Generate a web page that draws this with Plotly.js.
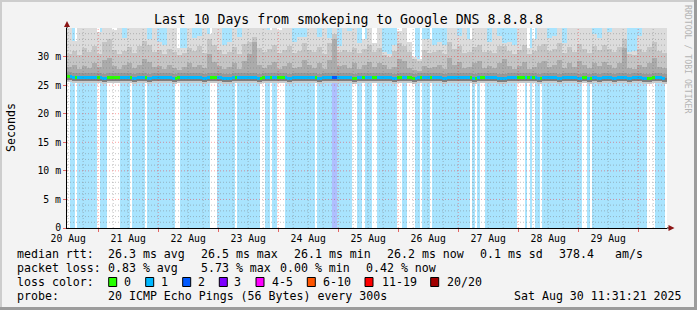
<!DOCTYPE html>
<html><head><meta charset="utf-8">
<script src="https://cdn.plot.ly/plotly-3.0.1.min.js"></script>
<style>
html,body{margin:0;padding:0;background:#f3f3f3;}
#wrap{position:relative;width:697px;height:310px;overflow:hidden;}
#chart{position:absolute;left:0;top:0;width:697px;height:310px;}
.b{position:absolute;pointer-events:none;}
</style></head><body>
<div id="wrap"><div id="chart"></div>
<div class="b" style="left:0;top:0;width:697px;height:2px;background:#cdcdcd"></div>
<div class="b" style="left:0;top:0;width:2px;height:310px;background:#cdcdcd"></div>
<div class="b" style="left:0;bottom:0;width:697px;height:3px;background:#9c9c9c"></div>
<div class="b" style="right:0;top:0;width:3px;height:310px;background:#9c9c9c"></div>
</div>
<script>
// ---- time frame ----
const startMs = Date.UTC(2025, 7, 20, 11, 31, 21);
const HOUR = 3600000;
const DAY = 24 * HOUR;
const Y_MAX = 35; // ms

// ---- hourly loss (number of lost pings out of 20; null = no data) ----
const lossPerHour = [
  0,1,1,0,1,1,1,1,1,1,1,1,0,1,1,1,0,0,0,0,0,1,1,1,
  1,0,1,1,1,1,1,0,1,1,1,1,1,1,1,1,1,1,1,0,0,1,1,1,
  1,1,1,1,1,1,1,1,1,0,0,0,1,1,1,1,1,1,1,0,1,1,1,1,
  1,1,1,1,1,0,0,1,1,0,1,1,0,0,0,1,1,1,1,1,1,1,1,1,
  1,1,1,0,1,1,1,1,1,1,2,2,1,1,1,1,1,1,0,0,1,1,0,1,
  1,1,0,0,1,1,1,1,1,1,1,1,0,0,1,1,0,0,0,1,1,0,1,1,
  1,0,1,1,1,1,1,1,1,1,1,1,1,1,1,1,1,0,1,0,1,0,0,1,
  1,1,1,1,1,1,1,1,1,1,1,1,0,0,0,1,0,1,0,1,1,0,1,1,
  1,1,1,1,1,1,1,1,1,1,1,1,1,1,0,0,1,0,1,1,1,1,1,1,
  1,1,1,1,1,1,1,1,1,1,1,1,1,1,1,1,0,0,0,1,1,1,1,null
];

// ---- 2-hour bins: median rtt and smoke levels (ms) ----
const medianRtt = [
  26.5,26.4,26.4,26.3,26.4,26.3,26.3,26.2,26.3,26.3, 26.4,26.3,26.3,26.2,26.3,26.3,26.2,26.3,26.3,26.4,
  26.3,26.2,26.3,26.3,26.3,26.4,26.3,26.2,26.3,26.3, 26.3,26.2,26.2,26.3,26.3,26.4,26.3,26.3,26.2,26.3,
  26.3,26.3,26.4,26.3,26.2,26.3,26.3,26.3,26.4,26.3, 26.2,26.3,26.3,26.4,26.3,26.3,26.3,26.2,26.3,26.4,
  26.3,26.3,26.3,26.4,26.3,26.2,26.3,26.3,26.3,26.2, 26.3,26.4,26.3,26.3,26.3,26.2,26.3,26.3,26.3,26.3,
  26.3,26.2,26.3,26.3,26.3,26.3,26.2,26.2,26.3,26.3, 26.3,26.4,26.3,26.3,26.2,26.3,26.3,26.3,26.2,26.3,
  26.3,26.3,26.2,26.3,26.2,26.3,26.2,26.3,26.3,26.2, 26.3,26.3,26.2,26.3,26.3,26.2,26.2,26.3,26.3,26.2
];
const smokeDark = [
  28.2,28.6,27.8,28.4,28.0,28.8,28.2,29.4,29.8,28.4, 27.9,28.5,28.8,28.0,28.6,29.6,29.0,28.2,28.4,27.8,
  28.6,28.0,27.6,28.2,28.8,28.2,28.6,28.0,30.5,29.0, 28.4,27.8,28.2,28.8,27.8,29.2,30.5,32.5,28.6,28.0,
  28.6,29.0,27.8,28.4,28.8,28.0,28.2,29.4,28.6,28.0, 28.8,27.8,29.4,33.0,28.4,28.6,28.0,28.8,27.9,28.6,
  29.0,28.2,28.8,28.6,27.8,28.2,29.6,29.2,28.0,27.6, 27.5,28.4,28.0,28.2,28.6,27.8,29.8,28.6,29.0,28.0,
  28.2,28.8,29.2,28.0,28.4,28.0,28.8,29.6,28.4,27.8, 28.4,29.0,27.8,28.2,28.8,29.2,28.2,28.6,29.4,28.0,
  28.8,28.2,29.2,28.6,28.0,28.8,28.4,29.0,28.6,28.0, 28.8,31.5,28.0,27.8,28.6,28.2,28.8,29.8,28.2,28.0
];
const smokeMid = [
  30.5,31.0,30.2,31.5,30.8,31.8,30.5,32.5,33.0,31.2, 30.4,31.0,31.6,30.6,31.8,32.8,32.0,30.8,31.2,30.5,
  31.4,30.8,30.2,30.6,31.5,31.0,31.8,30.6,33.0,32.0, 31.2,30.4,30.8,31.6,30.5,32.2,32.5,33.5,31.5,30.8,
  31.4,32.0,30.6,31.2,31.8,30.6,31.0,32.4,31.2,30.8, 31.6,30.5,32.4,34.0,30.8,31.2,30.8,31.5,30.6,31.4,
  32.0,30.8,31.5,30.2,30.0,31.0,32.4,31.8,30.8,29.6, 29.2,31.2,30.6,30.8,31.2,30.5,32.5,31.4,31.8,30.6,
  30.8,31.6,32.0,30.8,31.0,30.6,31.8,31.8,31.0,30.4, 31.2,32.0,30.4,31.0,31.8,32.2,31.0,31.4,32.4,30.6,
  31.6,30.8,32.2,31.4,30.6,31.8,31.2,32.0,31.4,30.8, 31.6,33.0,30.4,30.2,31.4,30.8,31.6,32.6,31.0,30.6
];
const smokeTop = [
  35,32.7,35,35,35,35,34.3,35,35,34.7, 35,33.3,35,35,35,35,33,35,32.5,32,
  35,35,31.5,31.5,35,33.3,33.6,35,34,35, 35,32,32.5,35,33.5,35,35,35,35,35,
  34.7,35,34.7,35,35,32.5,33.5,33.5,35,35, 33.5,35,33.3,35,31.8,35,34.5,35,32.3,33,
  35,32.3,35,30.8,30.5,32,34.5,35,32.5,30, 29.5,33,33,32,32.5,32,35,35,33.6,35,
  33,35,35,35,32.5,35,33.6,32.3,32.5,32, 35,35,31.5,33,35,35,33.3,33.6,35,32.3,
  35,35,35,35,35,34,33.3,35,34.3,35, 35,35,30.8,31,33.6,35,35,35,35,35
];

// ---- labels ----
const yTickVals = [0, 5, 10, 15, 20, 25, 30];
const yTickText = ['0', '5 m', '10 m', '15 m', '20 m', '25 m', '30 m'];
const lossLabels = ['0', '1', '2', '3', '4-5', '6-10', '11-19', '20/20'];
const lossColors = ['#26ff00', '#00b8ff', '#0059ff', '#7e00ff', '#ff00ff', '#ff5500', '#ff0000', '#a10000'];
const lossBg = {0: 'rgba(0,0,0,0)', 1: '#a9e4fe', 2: '#afbefe'};
const rttStats = ['26.3 ms avg', '26.5 ms max', '26.1 ms min', '26.2 ms now', '0.1 ms sd', '378.4', 'am/s'];
const lossStats = ['0.83 % avg', '5.73 % max', '0.00 % min', '0.42 % now'];
const probeText = '20 ICMP Echo Pings (56 Bytes) every 300s';
const stampText = 'Sat Aug 30 11:31:21 2025';

// ---- helpers ----
const ds = ms => new Date(ms).toISOString().replace('T', ' ').replace('Z', '');
const PL = 67, PW = 600, PB = 228, PH = 200;
const px = x => (x - PL) / PW;
const py = y => (PB - y) / PH;
const MONO = 'DejaVu Sans Mono';

const hourX = lossPerHour.map((_, h) => ds(startMs + (h + 0.5) * HOUR));
const binX = medianRtt.map((_, i) => ds(startMs + (2 * i + 1) * HOUR));

const traces = [];
// loss background
traces.push({
  type: 'bar', x: hourX, y: lossPerHour.map(() => Y_MAX), base: 0, width: HOUR,
  marker: {color: lossPerHour.map(l => l === null ? 'rgba(0,0,0,0)' : lossBg[l]), line: {width: 0}},
  hoverinfo: 'skip'
});
// smoke layers
const smokeLayer = (base, top, color) => ({
  type: 'bar', x: binX, base: base, y: top.map((t, i) => Math.max(0, t - base[i])), width: 2 * HOUR,
  marker: {color: color, line: {width: 0}}, hoverinfo: 'skip'
});
traces.push(smokeLayer(medianRtt.map(m => m - 0.95), medianRtt.map(m => m - 0.6), '#c9c9c9'));
traces.push(smokeLayer(medianRtt.map(m => m - 0.6), medianRtt, '#7e7e7e'));
traces.push(smokeLayer(medianRtt, medianRtt.map(m => m + 0.75), '#989898'));
traces.push(smokeLayer(medianRtt.map(m => m + 0.75), smokeDark, '#ababab'));
traces.push(smokeLayer(smokeDark, smokeMid, '#c5c5c5'));
traces.push(smokeLayer(smokeMid, smokeTop, '#dcdcdc'));
// median line coloured by loss
const medHour = lossPerHour.map((_, h) => medianRtt[Math.floor(h / 2)]);
traces.push({
  type: 'bar', x: hourX, base: medHour.map(m => m - 0.28), y: medHour.map(() => 0.56), width: HOUR,
  marker: {color: lossPerHour.map(l => l === null ? 'rgba(0,0,0,0)' : lossColors[l]), line: {width: 0}},
  hoverinfo: 'skip'
});

// ---- grid shapes (drawn above data, like rrdtool) ----
const shapes = [];
const MAJ = 'rgba(255,0,0,0.38)', MIN = 'rgba(120,120,120,0.45)';
const endMs = startMs + 240 * HOUR;
for (let t = Date.UTC(2025, 7, 20); t < endMs; t += 6 * HOUR) {
  if (t <= startMs) continue;
  const major = ((t - Date.UTC(2025, 7, 20)) % DAY) === 0;
  shapes.push({type: 'line', xref: 'x', yref: 'paper', x0: ds(t), x1: ds(t), y0: 0, y1: 1, layer: 'above',
    line: {color: major ? MAJ : MIN, width: 1, dash: '1px,2px'}});
}
for (let v = 1; v < Y_MAX; v++) {
  const major = v % 5 === 0;
  shapes.push({type: 'line', xref: 'paper', yref: 'y', x0: 0, x1: 1, y0: v, y1: v, layer: 'above',
    line: {color: major ? MAJ : MIN, width: 1, dash: '1px,2px'}});
}
// axis extensions and arrows
shapes.push({type: 'line', xref: 'paper', yref: 'paper', x0: px(67), x1: px(67), y0: 1, y1: py(25), line: {color: '#000', width: 1}});
shapes.push({type: 'path', xref: 'paper', yref: 'paper', layer: 'above',
  path: `M${px(67)},${py(21)} L${px(64)},${py(27)} L${px(70)},${py(27)} Z`, fillcolor: '#8c1515', line: {width: 0}});
shapes.push({type: 'line', xref: 'paper', yref: 'paper', x0: 1, x1: px(669), y0: 0, y1: 0, line: {color: '#000', width: 1}});
shapes.push({type: 'path', xref: 'paper', yref: 'paper', layer: 'above',
  path: `M${px(674.5)},${py(228)} L${px(668.5)},${py(225)} L${px(668.5)},${py(231)} Z`, fillcolor: '#8c1515', line: {width: 0}});

// ---- legend text ----
const annotations = [];
const txt = (x, y, s, opts) => annotations.push(Object.assign({
  xref: 'paper', yref: 'paper', x: px(x - 1), y: py(y), text: s, showarrow: false,
  xanchor: 'left', yanchor: 'middle', font: {family: MONO, size: 11.6, color: '#000'}
}, opts || {}));
const row1 = 254, row2 = 268, row3 = 282, row4 = 296;
txt(16, row1, 'median rtt:');
[107.3, 200, 292.7, 386, 479.3, 558.3, 614.3].forEach((x, i) => txt(x, row1, rttStats[i]));
txt(16, row2, 'packet loss:');
[107.3, 200, 279.3, 365].forEach((x, i) => txt(x, row2, lossStats[i]));
txt(16, row3, 'loss color:');
const boxX = [108.7, 145.7, 182.7, 219.3, 256, 307.3, 365, 430.7];
const labX = [123.3, 160, 196.7, 233.3, 270.7, 321.7, 380.7, 445.7];
lossLabels.forEach((lab, i) => {
  shapes.push({type: 'rect', xref: 'paper', yref: 'paper', x0: px(boxX[i]), x1: px(boxX[i] + 8),
    y0: py(row3 - 4.5), y1: py(row3 + 4.5), fillcolor: lossColors[i], line: {color: '#000', width: 1}});
  txt(labX[i], row3, lab);
});
txt(16, row4, 'probe:');
txt(107.3, row4, probeText);
txt(513.3, row4, stampText);
// y axis title
annotations.push({xref: 'paper', yref: 'paper', x: px(11), y: py(128), text: 'Seconds', textangle: -90,
  showarrow: false, xanchor: 'center', yanchor: 'middle', font: {family: MONO, size: 11.6, color: '#000'}});
// rrdtool credit
annotations.push({xref: 'paper', yref: 'paper', x: px(688), y: py(59), text: 'RRDTOOL / TOBI OETIKER', textangle: 90,
  showarrow: false, xanchor: 'center', yanchor: 'middle', font: {family: MONO, size: 8.2, color: '#b4b4b4'}});

const layout = {
  width: 697, height: 310,
  margin: {l: 67, r: 30, t: 28, b: 82, pad: 0},
  paper_bgcolor: '#f3f3f3', plot_bgcolor: '#ffffff',
  barmode: 'overlay', bargap: 0, showlegend: false,
  title: {text: 'Last 10 Days from smokeping to Google DNS 8.8.8.8', x: 0.5, xref: 'container', xanchor: 'center',
    y: 1 - 19 / 310, yref: 'container', yanchor: 'middle', font: {family: MONO, size: 13.2, color: '#000'}},
  xaxis: {type: 'date', range: [ds(startMs), ds(endMs)], tick0: '2025-08-20', dtick: DAY, tickformat: '%d %b',
    ticklabelmode: 'period', ticks: 'outside', ticklen: 3, tickcolor: 'rgba(220,40,40,0.7)',
    ticklabelstandoff: -2,
    showgrid: false, zeroline: false, showline: true, linecolor: '#000', linewidth: 1,
    tickfont: {family: MONO, size: 9.8, color: '#000'}, fixedrange: true},
  yaxis: {range: [0, Y_MAX], tickvals: yTickVals, ticktext: yTickText, ticks: 'outside', ticklen: 3,
    tickcolor: 'rgba(220,40,40,0.7)', showgrid: false, zeroline: false, showline: true, linecolor: '#000', linewidth: 1,
    tickfont: {family: MONO, size: 9.8, color: '#000'}, fixedrange: true},
  shapes: shapes, annotations: annotations
};
Plotly.newPlot('chart', traces, layout, {displayModeBar: false, staticPlot: true});
</script>
</body></html>
